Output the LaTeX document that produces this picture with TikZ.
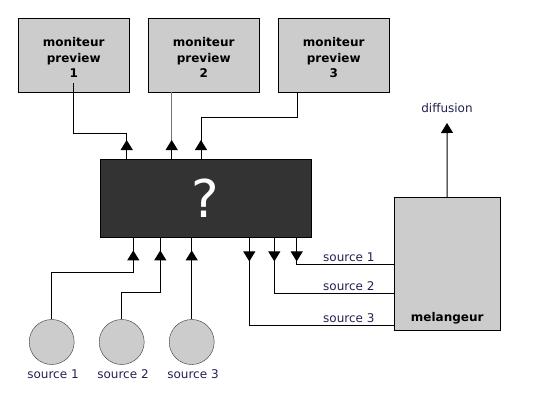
\documentclass[tikz,border=0pt]{standalone}
\usepackage{fontspec}
\setmainfont{DejaVu Sans}
\usetikzlibrary{calc,arrows.meta}
\definecolor{boxgray}{HTML}{CCCCCC}
\definecolor{darkbox}{HTML}{333333}
\definecolor{labelblue}{HTML}{22224F}
\def\topstrut{\rule{0pt}{14pt}}
\tikzset{
	monitor/.style={draw=black, fill=boxgray, anchor=north west, minimum width=111pt, minimum height=74pt, inner sep=0pt, align=center, font=\fontsize{12}{15.5}\selectfont\bfseries},
	blackbox/.style={draw=black, fill=darkbox, anchor=north west, minimum width=211pt, minimum height=78pt, inner sep=0pt, text=white, font=\fontsize{52}{56}\selectfont},
	mixbox/.style={draw=black, fill=boxgray, anchor=north west, minimum width=106pt, minimum height=133pt, inner sep=0pt},
	source/.style={circle, draw=black!80, fill=boxgray, minimum size=45pt, inner sep=0pt},
	srctxt/.style={text=labelblue, font=\fontsize{12}{14}\selectfont, inner sep=0pt},
	boldtxt/.style={font=\fontsize{12}{14}\selectfont\bfseries, inner sep=0pt},
	wire/.style={line width=1pt},
	headed/.style={-{Triangle[width=12pt,length=10pt]}},
}

\begin{document}
\begin{tikzpicture}[x=1pt, y=-1pt]
		%%%%% START %%%%%
		\useasboundingbox (0,0) rectangle (550,400);
		
		\node[monitor] (mon1) at (18,18) {\topstrut moniteur\\preview\\1};
		\node[monitor] (mon2) at (148,18) {\topstrut moniteur\\preview\\2};
		\node[monitor] (mon3) at (278,18) {\topstrut moniteur\\preview\\3};
		
		\node[blackbox] (proc) at (100,159) {?};
		
		\node[mixbox] (mel) at (394,197) {};
		\node[boldtxt] (meltxt) at ($(mel.south)+(0,-12)$) {melangeur};
		
		\coordinate (diffend) at (447,123);
		\node[srctxt] (diff) at (447,108) {diffusion};
		\draw[wire, headed] (mel.north) -- (diffend);
		
		\node[source] (src1) at (51.7,342) {};
		\node[source] (src2) at (121.7,342) {};
		\node[source] (src3) at (191.7,342) {};
		\node[srctxt, anchor=base] (src1txt) at (53,378) {source 1};
		\node[srctxt, anchor=base] (src2txt) at (123,378) {source 2};
		\node[srctxt, anchor=base] (src3txt) at (193,378) {source 3};
		
		% monitors
		\coordinate (top1) at ($(proc.north west)+(26.7,0)$);
		\coordinate (top2) at ($(proc.north west)+(71.7,0)$);
		\coordinate (top3) at ($(proc.north west)+(101,0)$);
		\coordinate (m1) at ($(mon1.south)+(0,-9)$);
		\coordinate (m3) at ($(mon3.south west)+(19.7,0)$);
		
		\draw[wire] (m1) |- ($(top1)+(0,-26)$) -- (top1);
		\draw[wire, black!55] (mon2.south -| top2) -- (top2);
		\draw[wire] (m3) |- ($(top3)+(0,-41.3)$) -- (top3);
		\draw[wire, headed] (top1) -- ++(0,-19);
		\draw[wire, headed] (top2) -- ++(0,-19);
		\draw[wire, headed] (top3) -- ++(0,-19);
		
		% sources in
		\coordinate (in1) at ($(proc.south west)+(33.3,0)$);
		\coordinate (in2) at ($(proc.south west)+(60.3,0)$);
		\coordinate (in3) at ($(proc.south west)+(91.7,0)$);
		
		\draw[wire] (src1.north) |- ($(in1)+(0,35)$) -- (in1);
		\draw[wire] (src2.north) |- ($(in2)+(0,55)$) -- (in2);
		\draw[wire] (src3.north) -- (in3);
		\draw[wire, headed] ($(in1)+(0,25)$) -- ++(0,-12);
		\draw[wire, headed] ($(in2)+(0,25)$) -- ++(0,-12);
		\draw[wire, headed] ($(in3)+(0,25)$) -- ++(0,-12);
		
		% out to melangeur
		\coordinate (out1) at ($(proc.south west)+(196.7,0)$);
		\coordinate (out2) at ($(proc.south west)+(174.3,0)$);
		\coordinate (out3) at ($(proc.south west)+(149.3,0)$);
		\coordinate (o1) at ($(out1)+(0,27)$);
		\coordinate (o2) at ($(out2)+(0,56)$);
		\coordinate (o3) at ($(out3)+(0,88)$);
		
		\draw[wire] (out1) -- (o1) -- (o1 -| mel.west);
		\draw[wire] (out2) -- (o2) -- (o2 -| mel.west);
		\draw[wire] (out3) -- (o3) -- (o3 -| mel.west);
		\draw[wire, headed] (out1) -- ++(0,24);
		\draw[wire, headed] (out2) -- ++(0,24);
		\draw[wire, headed] (out3) -- ++(0,24);
		
		\node[srctxt, anchor=base west] (o1txt) at ($(o1 -| mel.west)+(-71,-3)$) {source 1};
		\node[srctxt, anchor=base west] (o2txt) at ($(o2 -| mel.west)+(-71,-3)$) {source 2};
		\node[srctxt, anchor=base west] (o3txt) at ($(o3 -| mel.west)+(-71,-3)$) {source 3};
		
		%%%%% END %%%%%
\end{tikzpicture}
\end{document}
